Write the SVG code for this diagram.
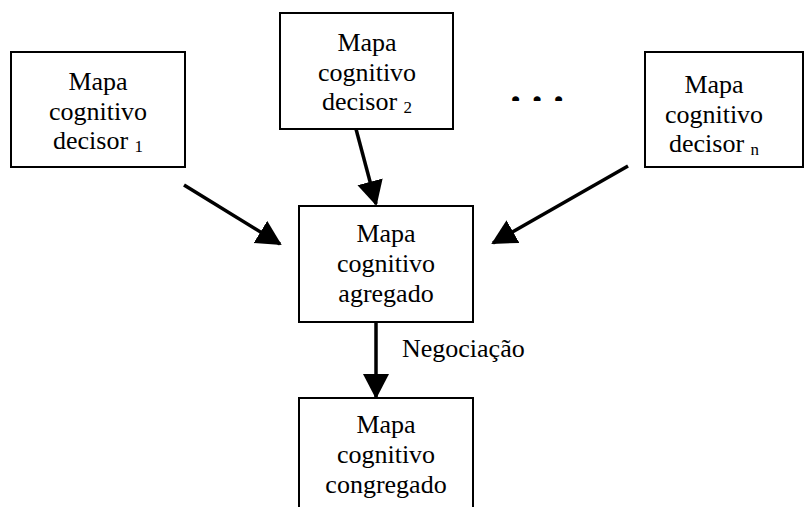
<svg xmlns="http://www.w3.org/2000/svg" width="806" height="507" viewBox="0 0 806 507">
<style>
.box{fill:#fff;stroke:#000;stroke-width:2}
.t{font-size:26px;fill:#000;text-anchor:middle}
.sub{font-size:17px}
.c{stroke:#000;stroke-width:3.5;fill:none;marker-end:url(#ah)}
</style>
<defs>
<marker id="ah" markerUnits="userSpaceOnUse" markerWidth="26" markerHeight="28" refX="23" refY="13" orient="auto">
<path d="M0,0 L25,13 L0,26 z" fill="#000"/>
</marker>
<clipPath id="dotclip"><rect x="490" y="80" width="100" height="21"/></clipPath>
</defs>
<rect width="806" height="507" fill="#fff"/>
<g font-family="Liberation Serif, Times New Roman, DejaVu Serif, serif">
<g id="connectors">
<line class="c" x1="184" y1="185" x2="280" y2="244"/>
<line class="c" x1="356" y1="129" x2="376" y2="204"/>
<line class="c" x1="628" y1="166" x2="493" y2="243"/>
<line class="c" x1="376" y1="322" x2="376" y2="397"/>
<text class="t" x="402" y="357" text-anchor="start" style="text-anchor:start">Negociação</text>
</g>
<g id="decisor1">
<rect class="box" x="11" y="52" width="174" height="115"/>
<text class="t" x="98" y="90">Mapa</text>
<text class="t" x="98" y="119.5">cognitivo</text>
<text class="t" x="98" y="149">decisor <tspan class="sub" dy="3">1</tspan></text>
</g>
<g id="decisor2">
<rect class="box" x="280" y="13" width="173" height="116"/>
<text class="t" x="367" y="51">Mapa</text>
<text class="t" x="367" y="80.5">cognitivo</text>
<text class="t" x="367" y="110">decisor <tspan class="sub" dy="3">2</tspan></text>
</g>
<g id="dots">
<text x="537" y="103" clip-path="url(#dotclip)" font-weight="bold" font-size="43" text-anchor="middle">. . .</text>
</g>
<g id="decisorn">
<rect class="box" x="645" y="52" width="158" height="115"/>
<text class="t" x="714" y="93">Mapa</text>
<text class="t" x="714" y="122.5">cognitivo</text>
<text class="t" x="714" y="152">decisor <tspan class="sub" dy="3">n</tspan></text>
</g>
<g id="agregado">
<rect class="box" x="299" y="206" width="174" height="116"/>
<text class="t" x="386" y="242">Mapa</text>
<text class="t" x="386" y="272">cognitivo</text>
<text class="t" x="386" y="302">agregado</text>
</g>
<g id="congregado">
<rect class="box" x="299" y="398" width="174" height="116"/>
<text class="t" x="386" y="433">Mapa</text>
<text class="t" x="386" y="463">cognitivo</text>
<text class="t" x="386" y="493">congregado</text>
</g>
</g>
</svg>
